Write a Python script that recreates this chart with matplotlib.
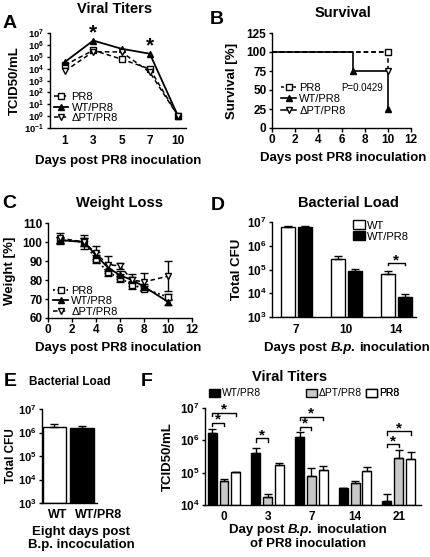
import matplotlib
matplotlib.use('Agg')
import matplotlib.pyplot as plt
import numpy as np
from matplotlib.ticker import LogLocator, LogFormatterSciNotation, NullLocator
from matplotlib.transforms import ScaledTranslation

# ---------------- data ----------------
A_days = ['1', '3', '5', '7', '10']
A_pr8 = [2.0e4, 3.5e5, 6.3e4, 9.3e3, 1.0]
A_wt = [3.7e4, 2.3e6, 4.7e5, 1.8e5, 1.0]
A_dpt = [6.3e3, 2.7e5, 2.5e5, 5.0e3, 1.0]

B_pr8_days = [0, 10]
B_pr8 = [100, 100]
B_wt_days = [0, 7, 10]
B_wt = [100, 75, 25]
B_dpt_days = [0, 10]
B_dpt = [100, 75]
B_pval = 'P=0.0429'

C_days = [1, 3, 4, 5, 6, 7, 8, 10]
C_pr8 = [101, 100, 91, 84, 81, 77.5, 75.5, 71]
C_pr8_sd = [1.5, 2, 2, 2, 2, 2, 1.5, 1.5]
C_wt = [101, 100, 93, 86.5, 82.5, 80, 76.5, 68.5]
C_wt_sd = [1.5, 2, 2, 2, 2, 1.5, 1.5, 1.5]
C_dpt = [102, 100, 94, 88, 87.5, 80, 79, 82]
C_dpt_sd = [3, 3.5, 4, 4.5, 1.5, 3, 4.5, 8]

D_days = ['7', '10', '14']
D_wt = [6.0e6, 2.7e5, 6.5e4]
D_wt_err = [1.0e6, 1.0e5, 1.8e4]
D_wtpr8 = [6.0e6, 8.7e4, 7.0e3]
D_wtpr8_err = [1.0e6, 2.0e4, 1.9e3]

E_groups = ['WT', 'WT/PR8']
E_vals = [1.8e6, 1.5e6]
E_err = [0.5e6, 0.45e6]

F_days = ['0', '3', '7', '14', '21']
F_wtpr8 = [1.65e6, 4.2e5, 1.25e6, 3.3e4, 1.3e4]
F_wtpr8_err = [0.55e6, 1.8e5, 0.6e6, 0, 0.9e4]
F_dpt = [5.5e4, 1.75e4, 8.0e4, 4.7e4, 2.8e5]
F_dpt_err = [1.0e4, 0.4e4, 5.5e4, 0.9e4, 2.2e5]
F_pr8 = [1.05e5, 1.75e5, 1.25e5, 1.1e5, 2.6e5]
F_pr8_err = [0, 0.3e5, 0.4e5, 0.45e5, 1.8e5]
# significance comparisons: (group, bar_a, bar_b, bracket height)
F_sig = [(0, 0, 1, 3.5e6), (0, 0, 2, 7.1e6), (1, 0, 1, 1.15e6),
         (2, 0, 1, 2.6e6), (2, 0, 2, 5.4e6), (4, 0, 1, 7.6e5), (4, 0, 2, 1.9e6)]

# ---------------- style ----------------
plt.rcParams.update({
    'font.family': ['Liberation Sans', 'DejaVu Sans'],
    'font.weight': 'bold',
    'axes.labelweight': 'bold',
    'axes.linewidth': 1.0,
    'xtick.major.width': 1.0, 'ytick.major.width': 1.0,
    'xtick.major.size': 3, 'ytick.major.size': 2.5,
    'xtick.labelsize': 8.5, 'ytick.labelsize': 8.5,
    'mathtext.fontset': 'custom',
    'mathtext.rm': 'Liberation Sans:bold',
    'mathtext.bf': 'Liberation Sans:bold',
    'mathtext.it': 'Liberation Sans:bold:italic',
    'mathtext.default': 'bf',
})
LEG = {'weight': 'normal', 'size': 8}

W, H = 430, 557
fig = plt.figure(figsize=(W / 100, H / 100), dpi=100)
R = fig.canvas.get_renderer()


def rect(x0, x1, y0, y1):
    return [x0 / W, 1 - y1 / H, (x1 - x0) / W, (y1 - y0) / H]


def ftext(x, y, s, size=10, **kw):
    return fig.text(x / W, 1 - y / H, s, ha='center', va='center', fontsize=size,
                    fontweight='bold', **kw)


def rich(xc, y, parts, size=9.5):
    """parts: list of (text, style); joined by single spaces, centered at xc."""
    sp_a = fig.text(0, 0, 'a a', fontsize=size, fontweight='bold')
    sp_b = fig.text(0, 0, 'aa', fontsize=size, fontweight='bold')
    space = sp_a.get_window_extent(R).width - sp_b.get_window_extent(R).width
    sp_a.remove()
    sp_b.remove()
    ts = [fig.text(0, 1 - y / H, s, fontsize=size, fontweight='bold', fontstyle=st,
                   ha='left', va='center') for s, st in parts]
    ws = [t.get_window_extent(R).width for t in ts]
    total = sum(ws) + space * (len(ts) - 1)
    x = xc - total / 2
    for t, w in zip(ts, ws):
        t.set_x(x / W)
        x += w + space


def style(ax):
    for s in ['top', 'right']:
        ax.spines[s].set_visible(False)
    ax.tick_params(direction='out', pad=1.5)


def logy(ax, lo, hi):
    ax.set_yscale('log')
    ax.set_ylim(lo, hi)
    ax.yaxis.set_major_locator(LogLocator(base=10, numticks=20))
    ax.yaxis.set_major_formatter(LogFormatterSciNotation())
    ax.yaxis.set_minor_locator(NullLocator())


def ylab(ax, s, xfrac, size=9.5):
    ax.set_ylabel(s, fontsize=size, va='center')
    ax.yaxis.set_label_coords(xfrac, 0.5)


eb = dict(capsize=3, elinewidth=1, capthick=1, ecolor='k')

# ---------------- A ----------------
axA = fig.add_axes(rect(50, 186, 33, 128))
style(axA)
xa = np.arange(len(A_days))
axA.plot(xa, A_pr8, color='k', ls=(0, (3, 2)), lw=1.1, marker='s', ms=5,
         mfc='white', mec='k', label='PR8')
axA.plot(xa, A_wt, color='k', ls='-', lw=1.3, marker='^', ms=5, mfc='k',
         mec='k', label='WT/PR8')
axA.plot(xa, A_dpt, color='k', ls=(0, (3, 2)), lw=1.1, marker='v', ms=5,
         mfc='white', mec='k', label='\u0394PT/PR8')
logy(axA, 1e-1, 1e7)
axA.tick_params(axis='y', labelsize=6.8)
axA.set_xlim(-0.53, 4.28)
axA.set_xticks(xa)
axA.set_xticklabels(A_days)
axA.tick_params(axis='x', length=0, pad=5)
ylab(axA, 'TCID50/mL', -0.257)
axA.text(1, 10 ** 7.0, '*', ha='center', va='center', fontsize=15, clip_on=False)
axA.text(3, 10 ** 5.95, '*', ha='center', va='center', fontsize=15, clip_on=False)
axA.legend(loc='upper left', bbox_to_anchor=(0.02, 0.39), frameon=False, prop=LEG,
           handlelength=1.3, handletextpad=0.3, labelspacing=0.05, borderaxespad=0,
           borderpad=0.1)
ftext(115, 9, 'Viral Titers', 10.5)
ftext(118, 161, 'Days post PR8 inoculation', 9.5)
ftext(10, 24, 'A', 14)

# ---------------- B ----------------
axB = fig.add_axes(rect(272, 411, 33, 128))
style(axB)
axB.step(B_pr8_days, B_pr8, where='post', color='k', ls=(0, (3, 2)), lw=1.1)
axB.step(B_dpt_days, B_dpt, where='post', color='k', ls=(0, (3, 2)), lw=1.1)
axB.step(B_wt_days, B_wt, where='post', color='k', ls='-', lw=1.2)
axB.plot(B_pr8_days[1:], B_pr8[1:], ls='none', marker='s', ms=5, mfc='white', mec='k')
axB.plot(B_dpt_days[1:], B_dpt[1:], ls='none', marker='v', ms=5, mfc='white', mec='k')
axB.plot(B_wt_days[1:], B_wt[1:], ls='none', marker='^', ms=5, mfc='k', mec='k')
hB = [plt.Line2D([], [], color='k', ls=(0, (2, 2)), lw=1.1, marker='s', ms=5, mfc='white'),
      plt.Line2D([], [], color='k', ls='-', lw=1.2, marker='^', ms=5, mfc='k'),
      plt.Line2D([], [], color='k', ls='-', lw=1.1, marker='v', ms=5, mfc='white')]
axB.legend(hB, ['PR8', 'WT/PR8', '\u0394PT/PR8'], loc='upper left',
           bbox_to_anchor=(0.06, 0.49), frameon=False, prop=LEG, handlelength=1.3,
           handletextpad=0.3, labelspacing=0.15, borderaxespad=0, borderpad=0.1)
axB.text(7.8, 53, B_pval, ha='center', va='center', fontsize=7, fontweight='normal')
axB.set_xlim(0, 12)
axB.set_ylim(0, 125)
axB.set_xticks(range(0, 13, 2))
axB.set_yticks(range(0, 126, 25))
ylab(axB, 'Survival [%]', -0.288)
ftext(343, 13, 'Survival', 10.5)
ftext(343, 158, 'Days post PR8 inoculation', 9.5)
ftext(217, 20, 'B', 14)

# ---------------- C ----------------
axC = fig.add_axes(rect(48, 192, 223, 318))
style(axC)
axC.errorbar(C_days, C_pr8, yerr=C_pr8_sd, color='k', ls=(0, (1, 1.5)), lw=1.3,
             marker='s', ms=5, mfc='white', mec='k', **eb)
axC.errorbar(C_days, C_wt, yerr=C_wt_sd, color='k', ls='-', lw=1.3,
             marker='^', ms=5, mfc='k', mec='k', **eb)
axC.errorbar(C_days, C_dpt, yerr=C_dpt_sd, color='k', ls=(0, (3, 2)), lw=1.1,
             marker='v', ms=5, mfc='white', mec='k', **eb)
axC.set_xlim(0, 12)
axC.set_ylim(60, 110)
axC.set_xticks(range(0, 13, 2))
axC.set_yticks(range(60, 111, 10))
ylab(axC, 'Weight [%]', -0.264)
hC = [plt.Line2D([], [], color='k', ls=(0, (1, 1.5)), lw=1.3, marker='s', ms=5, mfc='white'),
      plt.Line2D([], [], color='k', ls='-', lw=1.3, marker='^', ms=5, mfc='k'),
      plt.Line2D([], [], color='k', ls=(0, (3, 2)), lw=1.1, marker='v', ms=5, mfc='white')]
axC.legend(hC, ['PR8', 'WT/PR8', '\u0394PT/PR8'], loc='lower left',
           bbox_to_anchor=(0.03, 0.0), frameon=False, prop=LEG, handlelength=1.3,
           handletextpad=0.3, labelspacing=0.05, borderaxespad=0, borderpad=0.1)
ftext(120, 203, 'Weight Loss', 10.5)
ftext(118, 348, 'Days post PR8 inoculation', 9.5)
ftext(9, 204, 'C', 14)

# ---------------- D ----------------
axD = fig.add_axes(rect(272, 416, 222, 317))
style(axD)
logy(axD, 1e3, 1e7)
xd = np.arange(len(D_days))
bw = 0.28
off = 0.17
axD.bar(xd - off, np.array(D_wt) - 1e3, bottom=1e3, width=bw, color='white',
        edgecolor='k', lw=1, label='WT')
axD.bar(xd + off, np.array(D_wtpr8) - 1e3, bottom=1e3, width=bw, color='black',
        edgecolor='k', lw=1, label='WT/PR8')
axD.errorbar(xd - off, D_wt, yerr=[np.zeros(3), D_wt_err], fmt='none', **eb)
axD.errorbar(xd + off, D_wtpr8, yerr=[np.zeros(3), D_wtpr8_err], fmt='none', **eb)
axD.set_xlim(-0.48, 2.4)
axD.set_xticks(xd)
axD.set_xticklabels(D_days)
axD.tick_params(axis='x', length=0, pad=5)
ylab(axD, 'Total CFU', -0.243)
axD.legend(loc='upper left', bbox_to_anchor=(0.56, 1.02), frameon=False, prop=LEG,
           handlelength=1.1, handleheight=0.9, handletextpad=0.15,
           labelspacing=0.05, borderaxespad=0, borderpad=0.0)


def bracket(ax, x1, x2, y, star_size=11):
    ytick = y / 10 ** 0.1
    ax.plot([x1, x1, x2, x2], [ytick, y, y, ytick], color='k', lw=1, clip_on=False)
    ax.annotate('*', ((x1 + x2) / 2, y), xytext=(0, 3), textcoords='offset pixels',
                ha='center', va='center', fontsize=star_size, annotation_clip=False)


bracket(axD, 2 - off, 2 + off, 10 ** 5.27)
ftext(348, 203, 'Bacterial Load', 10.5)
rich(347, 348, [('Days post', 'normal'), ('B.p.', 'italic'), ('inoculation', 'normal')])
ftext(218, 206, 'D', 14)

# ---------------- E ----------------
axE = fig.add_axes(rect(42, 97, 409, 503))
style(axE)
logy(axE, 1e3, 1e7)
axE.tick_params(axis='y', labelsize=8)
xe = np.arange(len(E_groups))
axE.bar(xe, np.array(E_vals) - 1e3, bottom=1e3, width=0.85, color=['white', 'black'],
        edgecolor='k', lw=1)
axE.errorbar(xe, E_vals, yerr=[np.zeros(2), E_err], fmt='none', **eb)
axE.set_xlim(-0.45, 1.55)
axE.set_xticks(xe)
axE.set_xticklabels(E_groups, fontsize=9)
axE.tick_params(axis='x', length=0, pad=4)
for lbl, dx in zip(axE.get_xticklabels(), [3, 17]):
    lbl.set_transform(lbl.get_transform() + ScaledTranslation(dx / 100, 0, fig.dpi_scale_trans))
ylab(axE, 'Total CFU', -0.56, 8.5)
ftext(70, 382, 'Bacterial Load', 8.5)
ftext(81, 532, 'Eight days post', 9.5)
ftext(81, 545, 'B.p. incoculation', 9.5)
ftext(10, 381, 'E', 14)

# ---------------- F ----------------
axF = fig.add_axes(rect(205, 421, 408, 505))
style(axF)
logy(axF, 1e4, 1e7)
xf = np.arange(len(F_days))
fw = 0.205
fo = 0.27
series = [(F_wtpr8, F_wtpr8_err, 'black', 'WT/PR8'),
          (F_dpt, F_dpt_err, '#c8c8c8', '\u0394PT/PR8'),
          (F_pr8, F_pr8_err, 'white', 'PR8')]
fbars = []
for i, (v, e, c, lab) in enumerate(series):
    xs = xf + (i - 1) * fo
    b = axF.bar(xs, np.array(v) - 1e4, bottom=1e4, width=fw, color=c,
                edgecolor='k', lw=1, label=lab)
    axF.errorbar(xs, v, yerr=[np.zeros(len(v)), e], fmt='none', **eb)
    fbars.append(b)
for g, a, bb, y in F_sig:
    bracket(axF, g + (a - 1) * fo, g + (bb - 1) * fo, y)
axF.set_xlim(-0.435, 4.51)
axF.set_xticks(xf)
axF.set_xticklabels(F_days)
axF.tick_params(axis='x', length=0, pad=4)
ylab(axF, 'TCID50/mL', -0.171)
leg_x = [209, 306, 366]
for b, lx in zip(fbars, leg_x):
    lg = axF.legend([b], [b.get_label()], loc='center left',
                    bbox_to_anchor=((lx - 205) / 216, 1.15), frameon=False,
                    prop={'weight': 'normal', 'size': 7.5},
                    handlelength=1.1, handleheight=0.9, handletextpad=0.15,
                    borderaxespad=0, borderpad=0)
    axF.add_artist(lg)
ftext(290, 377, 'Viral Titers', 10.5)
rich(308, 530, [('Day post', 'normal'), ('B.p.', 'italic'), ('inoculation', 'normal')])
ftext(308, 544, 'of PR8 inoculation', 9.5)
ftext(147, 381, 'F', 14)

fig.savefig('out.png', dpi=100)
